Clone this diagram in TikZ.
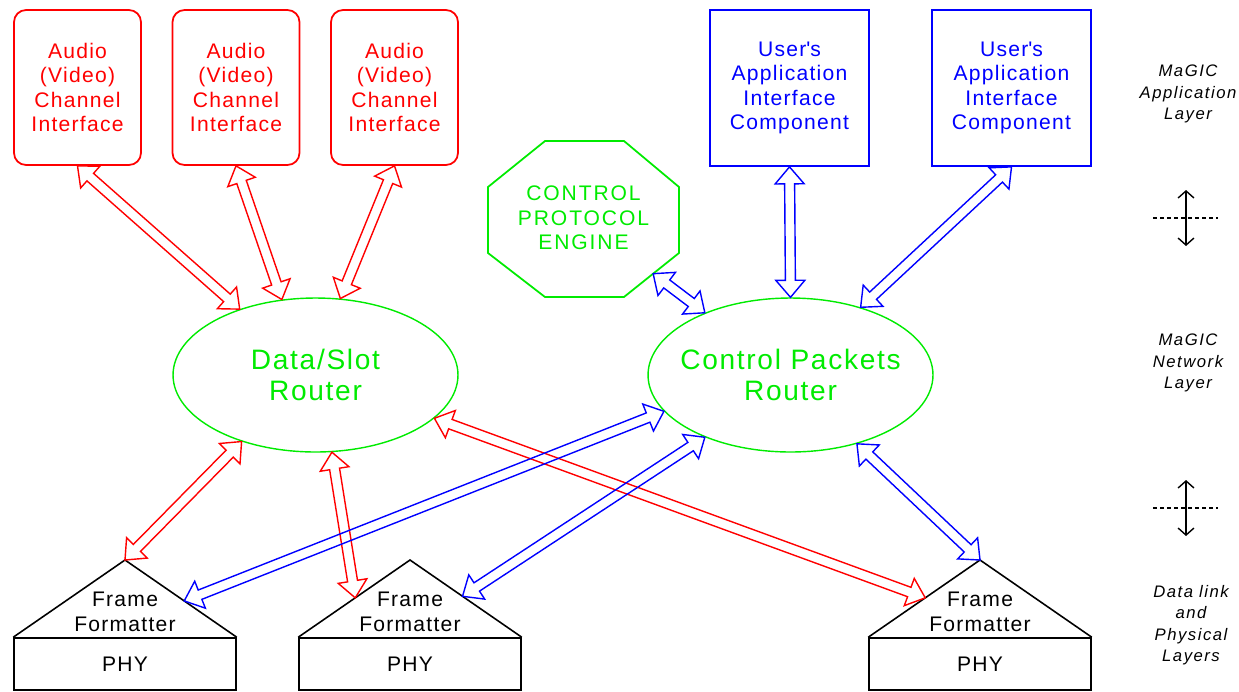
\documentclass[tikz,border=0pt]{standalone}
\usepackage{fontspec}
\setmainfont{Liberation Sans}[LetterSpace=6]
\usetikzlibrary{calc,shapes.geometric,arrows.meta}

\definecolor{magred}{RGB}{255,0,0}
\definecolor{magblue}{RGB}{0,0,255}
\definecolor{maggreen}{RGB}{0,235,0}

% hollow arrow with a head at both ends: colour, end, end
\newcommand{\fatarrow}[3]{%
  \coordinate (faA) at (#2);
  \coordinate (faB) at (#3);
  \coordinate (hA) at ($(faA)!0.34cm!(faB)$);
  \coordinate (hB) at ($(faB)!0.34cm!(faA)$);
  \draw[#1, line width=0.8pt] (faA) -- ($(hA)!0.29cm!90:(faB)$) -- ($(hA)!0.1cm!90:(faB)$)
    -- ($(hB)!0.1cm!-90:(faA)$) -- ($(hB)!0.29cm!-90:(faA)$) -- (faB)
    -- ($(hB)!0.29cm!90:(faA)$) -- ($(hB)!0.1cm!90:(faA)$)
    -- ($(hA)!0.1cm!-90:(faB)$) -- ($(hA)!0.29cm!-90:(faB)$) -- cycle;
}

\begin{document}
\begin{tikzpicture}[x=0.02cm, y=-0.02cm,
    audio/.style={draw=magred, text=magred, line width=1pt, rounded corners=0.24cm,
      minimum width=2.54cm, minimum height=3.1cm, align=center,
      font=\fontsize{12}{13.9}\selectfont},
    user/.style={draw=magblue, text=magblue, line width=1pt,
      minimum width=3.18cm, minimum height=3.12cm, align=center,
      font=\fontsize{12}{13.9}\selectfont},
    router/.style={ellipse, draw=maggreen, line width=0.8pt, inner sep=0pt,
      minimum width=5.7cm, minimum height=3.08cm},
    rtext/.style={text=maggreen, align=center, font=\fontsize{16}{17.6}\selectfont},
    cpe/.style={text=maggreen, align=center,
      font=\fontsize{12}{13.9}\selectfont\addfontfeatures{LetterSpace=9}},
    phy/.style={draw, line width=0.9pt, minimum width=4.44cm, minimum height=1.04cm,
      font=\fontsize{12}{13.9}\selectfont},
    frm/.style={align=center, font=\fontsize{12}{13.9}\selectfont},
    layer/.style={align=center,
      font=\fontsize{9.5}{12.2}\selectfont\itshape\addfontfeatures{LetterSpace=9}},
    sep/.style={line width=0.7pt, dash pattern=on 0.08cm off 0.06cm},
    lim/.style={{Straight Barb[length=4pt,width=9pt]}-{Straight Barb[length=4pt,width=9pt]}, line width=0.8pt}]
  \useasboundingbox (0,0) rectangle (1239,691);

  % MaGIC application layer
  \node[audio] (a1) at (77.5,87.5) {Audio\\(Video)\\Channel\\Interface};
  \node[audio] (a2) at (236,87.5) {Audio\\(Video)\\Channel\\Interface};
  \node[audio] (a3) at (394.5,87.5) {Audio\\(Video)\\Channel\\Interface};
  \node[user] (u1) at (789.5,88) {User\textquotesingle s\\Application\\Interface\\Component};
  \node[user] (u2) at (1011.5,88) {User\textquotesingle s\\Application\\Interface\\Component};

  % control protocol engine
  \draw[maggreen, line width=1pt] (545,141) -- (624,141) -- (679,187)
    -- (679,253) coordinate (o4) -- (624,297) coordinate (o5)
    -- (545,297) -- (488,253) -- (488,187) -- cycle;
  \node[cpe] (cpe) at (583.5,218) {CONTROL\\PROTOCOL\\ENGINE};

  % MaGIC network layer
  \node[router, label={[rtext]center:Data/Slot\\Router}] (dsr) at (315.5,375) {};
  \node[router, label={[rtext]center:Control Packets\\Router}] (cpr) at (790.5,375) {};

  % data link and physical layers
  \node[phy] (p1) at (125,664) {PHY};
  \node[phy] (p2) at (410,664) {PHY};
  \node[phy] (p3) at (980,664) {PHY};
  \coordinate (t1) at (125,560);
  \coordinate (t2) at (410,560);
  \coordinate (t3) at (980,560);
  \draw[line width=0.9pt] (p1.north west) -- (t1) -- (p1.north east);
  \draw[line width=0.9pt] (p2.north west) -- (t2) -- (p2.north east);
  \draw[line width=0.9pt] (p3.north west) -- (t3) -- (p3.north east);
  \node[frm] (f1) at (125,612) {Frame\\Formatter};
  \node[frm] (f2) at (410,612) {Frame\\Formatter};
  \node[frm] (f3) at (980,612) {Frame\\Formatter};

  % data paths
  \fatarrow{magred}{a1.south}{dsr.139}
  \fatarrow{magred}{a2.south}{dsr.114}
  \fatarrow{magred}{a3.south}{dsr.72}
  \fatarrow{magred}{dsr.222}{t1}
  \fatarrow{magred}{dsr.282}{$(t2)!0.49!(p2.north west)$}
  \fatarrow{magred}{dsr.340}{$(t3)!0.49!(p3.north west)$}

  % control paths
  \fatarrow{magblue}{$(o4)!0.47!(o5)$}{cpr.144}
  \fatarrow{magblue}{u1.south}{cpr.90}
  \fatarrow{magblue}{u2.south}{cpr.44}
  \fatarrow{magblue}{cpr.196}{$(t1)!0.53!(p1.north east)$}
  \fatarrow{magblue}{cpr.216}{$(t2)!0.47!(p2.north east)$}
  \fatarrow{magblue}{cpr.314}{t3}

  % layer names
  \node[layer] (l1) at (1188,94) {MaGIC\\Application\\Layer};
  \node[layer] (l2) at (1188,363) {MaGIC\\Network\\Layer};
  \node[layer] (l3) at (1191,625) {Data link\\and\\Physical\\Layers};

  % layer borders
  \coordinate (s1t) at (1186,190);
  \coordinate (s1b) at (1186,246);
  \coordinate (s2t) at (1186,480);
  \coordinate (s2b) at (1186,536);
  \draw[sep] (1153,218) -- (1218,218);
  \draw[sep] (1153,508) -- (1218,508);
  \draw[lim] (s1t) -- (s1b);
  \draw[lim] (s2t) -- (s2b);
\end{tikzpicture}
\end{document}
